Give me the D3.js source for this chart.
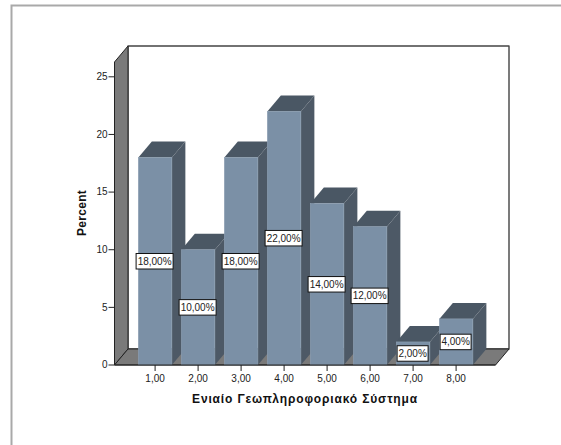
<!DOCTYPE html>
<html><head><meta charset="utf-8">
<script src="https://cdn.jsdelivr.net/npm/d3@7/dist/d3.min.js"></script>
<style>html,body{margin:0;padding:0;background:#fff}svg{display:block}text{font-family:"Liberation Sans",Arial,sans-serif}</style>
</head><body><svg id="c" width="561" height="445"></svg>
<script>
const categories=["1,00","2,00","3,00","4,00","5,00","6,00","7,00","8,00"];
const percentValues=[18,10,18,22,14,12,2,4];
const barLabels=["18,00%","10,00%","18,00%","22,00%","14,00%","12,00%","2,00%","4,00%"];
const yTicks=[0,5,10,15,20,25];
const yTitle="Percent";
const xTitle="Ενιαίο Γεωπληροφοριακό Σύστημα";

const svg=d3.select("#c");
const dx=13.5,dy=16;
const x=d3.scaleBand().domain(categories).range([133.6,477.6]).paddingInner(0.22).paddingOuter(0.11);
const y=d3.scaleLinear().domain([0,25]).range([365,76.8]);
const wallTop=62,left=114.5,right=495.5,base=y(0);
const poly=(pts,fill,stroke,sw)=>svg.append("polygon").attr("points",pts.map(p=>p.join(",")).join(" ")).attr("fill",fill).attr("stroke",stroke||"none").attr("stroke-width",sw||0).attr("stroke-linejoin","round");

// outer frame
svg.append("path").attr("d","M11.5,445V5.5H561").attr("fill","none").attr("stroke","#a9a9a9").attr("stroke-width",2);

// walls and floor
poly([[left+dx,wallTop-dy],[right+dx,wallTop-dy],[right+dx,base-dy],[left+dx,base-dy]],"#fff","#444",1.4);
poly([[left,wallTop],[left+dx,wallTop-dy],[left+dx,base-dy],[left,base]],"#7a7a7a","#222",1);
poly([[left,base],[left+dx,base-dy],[right+dx,base-dy],[right,base]],"#7a7a7a","#222",1);

// bars
const g=svg.append("g").selectAll("g").data(categories).join("g");
g.each(function(c,i){
  const s=d3.select(this),a=x(c),b=a+x.bandwidth(),t=y(percentValues[i]);
  const P=(pts,f)=>s.append("polygon").attr("points",pts.map(p=>p.join(",")).join(" ")).attr("fill",f);
  P([[a,t],[a+dx,t-dy],[b+dx,t-dy],[b,t]],"#4a5764");
  P([[b,t],[b+dx,t-dy],[b+dx,base-dy],[b,base]],"#4d5966");
  s.append("rect").attr("x",a).attr("y",t).attr("width",b-a).attr("height",base-t).attr("fill","#7b90a6").attr("stroke","#8ea0b3").attr("stroke-width",0.6);
});
svg.append("line").attr("x1",left).attr("x2",right).attr("y1",base).attr("y2",base).attr("stroke","#222").attr("stroke-width",1.2);

// axes
const ax=svg.append("g").attr("transform",`translate(${left},0)`).call(d3.axisLeft(y).tickValues(yTicks).tickSize(6).tickPadding(1).offset(0));
const bx=svg.append("g").attr("transform",`translate(0,${base})`).call(d3.axisBottom(x).tickSize(6).tickPadding(4).offset(0));
[ax,bx].forEach(a=>{a.select(".domain").remove();a.selectAll("line").attr("stroke","#222");a.selectAll("text").attr("font-size",10).attr("fill","#222").attr("font-family","Liberation Sans");});

// value labels
const lab=svg.append("g").selectAll("g").data(categories).join("g")
 .attr("transform",(c,i)=>`translate(${x(c)+x.bandwidth()/2-0.5},${(y(percentValues[i])+base)/2})`);
lab.append("rect").attr("x",(c,i)=>percentValues[i]<10?-15.5:-18.5).attr("y",-7.75).attr("width",(c,i)=>percentValues[i]<10?31:37).attr("height",15.5).attr("fill","#fff").attr("stroke","#111").attr("stroke-width",1);
lab.append("text").attr("text-anchor","middle").attr("y",3.5).attr("font-size",10).attr("fill","#222").text((c,i)=>barLabels[i]);

// titles
svg.append("text").attr("transform","translate(86,213) rotate(-90)").attr("text-anchor","middle").attr("font-size",12).attr("font-weight","bold").attr("letter-spacing",0.3).attr("fill","#111").text(yTitle);
svg.append("text").attr("x",305).attr("y",403).attr("text-anchor","middle").attr("font-size",12).attr("font-weight","bold").attr("letter-spacing",0.85).attr("fill","#111").text(xTitle);
</script></body></html>
